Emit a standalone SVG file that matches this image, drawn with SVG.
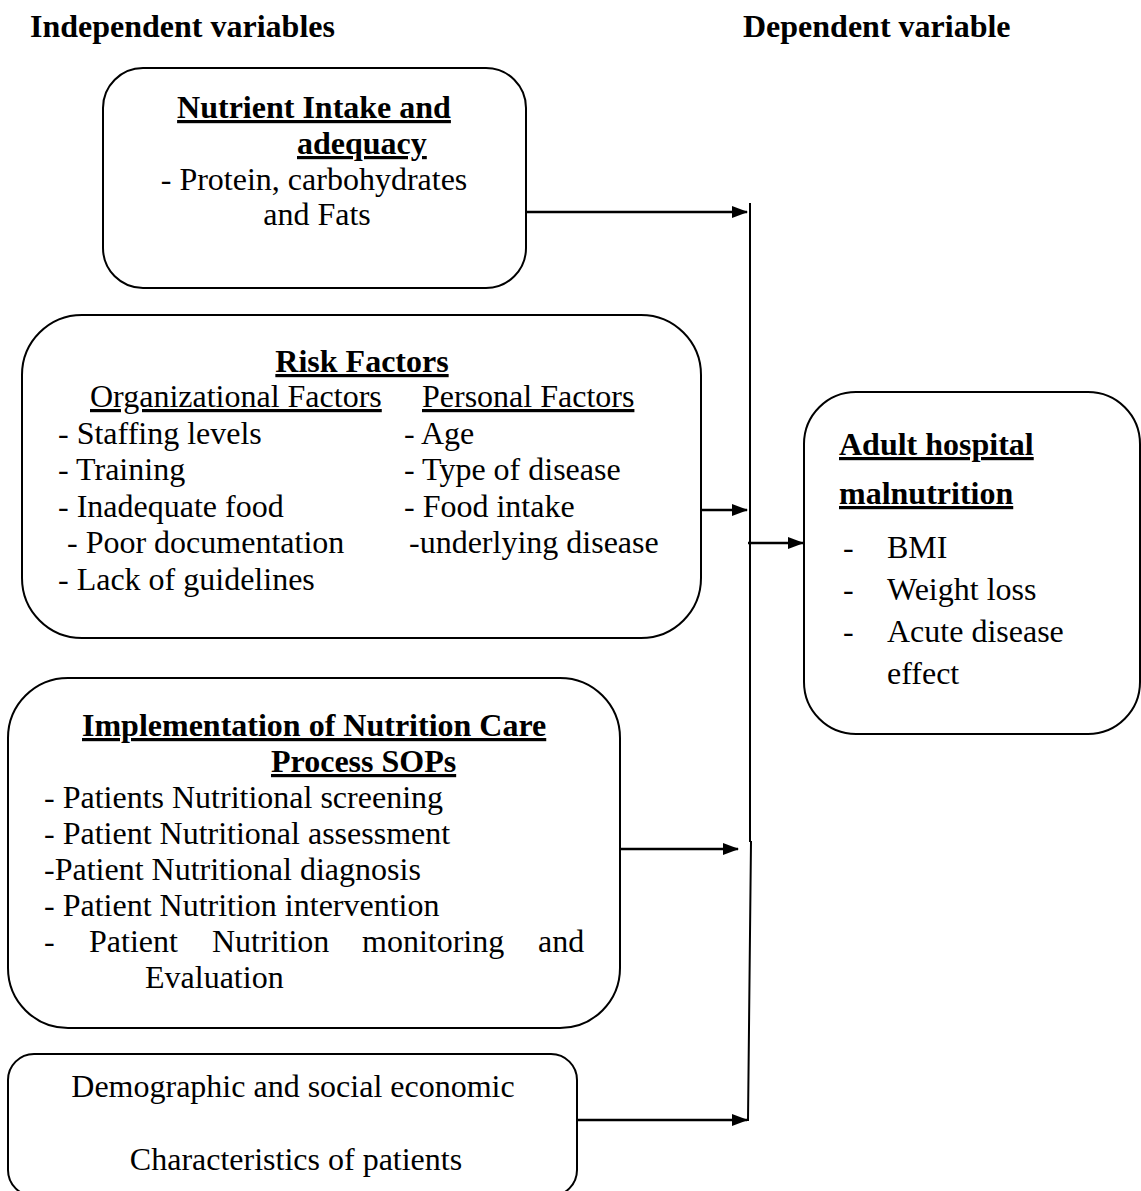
<svg xmlns="http://www.w3.org/2000/svg" width="1141" height="1191" viewBox="0 0 1141 1191">
<style>
text{font-family:"Liberation Serif","Times New Roman",serif;font-size:32px;fill:#000}
.b{font-weight:bold}
.u{text-decoration:underline}
.box{fill:#fff;stroke:#000;stroke-width:2}
.c{text-anchor:middle}
.ln{fill:none;stroke:#000;stroke-width:2.5}
</style>
<defs>
<marker id="ah" markerWidth="16" markerHeight="12" refX="15" refY="6" orient="auto" markerUnits="userSpaceOnUse">
<path d="M0,0 L16,6 L0,12 Z" fill="#000"/>
</marker>
</defs>
<rect width="1141" height="1191" fill="#fff"/>
<text class="b" x="30" y="37">Independent variables</text>
<text class="b" x="743" y="37">Dependent variable</text>

<g id="nutrient">
<rect class="box" x="103" y="68" width="423" height="220" rx="40"/>
<text class="b u c" x="314" y="118">Nutrient Intake and</text>
<text class="b u" x="297" y="154">adequacy</text>
<text class="c" x="314" y="190">- Protein, carbohydrates</text>
<text class="c" x="317" y="225">and Fats</text>
</g>

<g id="risk">
<rect class="box" x="22" y="315" width="679" height="323" rx="60"/>
<text class="b u c" x="362" y="372">Risk Factors</text>
<text class="u" x="90" y="407">Organizational Factors</text>
<text class="u" x="422" y="407">Personal Factors</text>
<text x="58" y="444">- Staffing levels</text>
<text x="58" y="480">- Training</text>
<text x="58" y="517">- Inadequate food</text>
<text x="67" y="553">- Poor documentation</text>
<text x="58" y="590">- Lack of guidelines</text>
<text x="404" y="444">- Age</text>
<text x="404" y="480">- Type of disease</text>
<text x="404" y="517">- Food intake</text>
<text x="409" y="553">-underlying disease</text>
</g>

<g id="ncp">
<rect class="box" x="8" y="678" width="612" height="350" rx="60"/>
<text class="b u" x="82" y="736">Implementation of Nutrition Care</text>
<text class="b u" x="271" y="772">Process SOPs</text>
<text x="44" y="808">- Patients Nutritional screening</text>
<text x="44" y="844">- Patient Nutritional assessment</text>
<text x="44" y="880">-Patient Nutritional diagnosis</text>
<text x="44" y="916">- Patient Nutrition intervention</text>
<text y="952"><tspan x="44">-</tspan><tspan x="89">Patient</tspan><tspan x="212">Nutrition</tspan><tspan x="362">monitoring</tspan><tspan x="538">and</tspan></text>
<text x="145" y="988">Evaluation</text>
</g>

<g id="demographic">
<rect class="box" x="8" y="1054" width="569" height="142" rx="26"/>
<text class="c" x="293" y="1097">Demographic and social economic</text>
<text class="c" x="296" y="1170">Characteristics of patients</text>
</g>

<g id="malnutrition">
<rect class="box" x="804" y="392" width="336" height="342" rx="52"/>
<text class="b u" x="839" y="455">Adult hospital</text>
<text class="b u" x="839" y="504">malnutrition</text>
<text x="843" y="558">-</text><text x="887" y="558">BMI</text>
<text x="843" y="600">-</text><text x="887" y="600">Weight loss</text>
<text x="843" y="642">-</text><text x="887" y="642">Acute disease</text>
<text x="887" y="684">effect</text>
</g>

<g id="connectors">
<path class="ln" d="M750,203 V842 M751,841 L748,1121" style="stroke-width:2"/>
<line class="ln" x1="526" y1="212" x2="747" y2="212" marker-end="url(#ah)"/>
<line class="ln" x1="701" y1="510" x2="747" y2="510" marker-end="url(#ah)"/>
<line class="ln" x1="620" y1="849" x2="738" y2="849" marker-end="url(#ah)"/>
<line class="ln" x1="577" y1="1120" x2="747" y2="1120" marker-end="url(#ah)"/>
<line class="ln" x1="748" y1="543" x2="803" y2="543" marker-end="url(#ah)"/>
</g>
</svg>
